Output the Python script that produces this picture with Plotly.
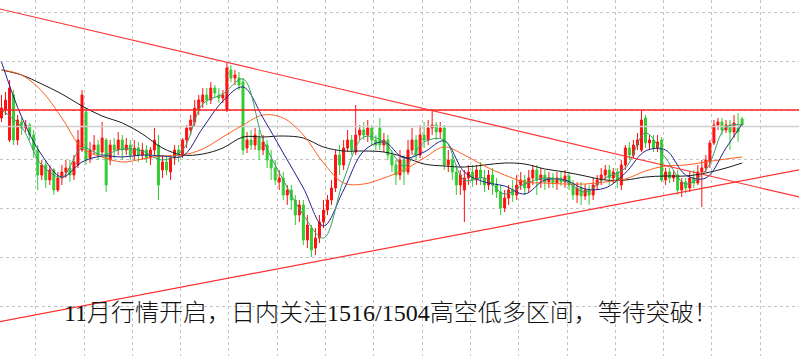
import plotly.graph_objects as go

# ---------------- data ----------------
bar_idx = list(range(185))

opens = [1515.2,1516.0,1513.0,1517.5,1513.0,1514.8,1514.2,1514.5,1513.5,1512.0,
         1509.5,1510.5,1509.0,1510.0,1508.0,1509.2,1509.8,1510.2,1509.5,1510.5,
         1512.0,1515.8,1511.2,1512.0,1512.5,1511.8,1513.0,1511.0,1512.5,1512.0,
         1513.0,1512.0,1512.5,1511.5,1512.2,1511.5,1512.0,1511.2,1512.0,1512.5,
         1510.0,1510.8,1509.8,1511.2,1512.0,1511.5,1513.0,1514.0,1514.8,1516.0,
         1516.8,1517.5,1517.0,1518.2,1517.5,1517.2,1516.0,1520.0,1519.2,1519.2,
         1518.8,1512.2,1513.0,1512.5,1513.2,1512.0,1512.5,1511.0,1510.2,1508.8,
         1509.2,1507.5,1508.0,1507.0,1505.5,1506.5,1503.0,1504.2,1502.2,1503.2,
         1504.8,1506.0,1507.0,1508.2,1511.5,1510.5,1512.2,1513.0,1511.8,1513.5,
         1514.0,1513.5,1514.2,1513.0,1514.2,1512.5,1513.0,1511.5,1510.5,1509.5,
         1511.0,1509.8,1512.0,1513.0,1511.5,1513.5,1513.0,1514.2,1514.5,1513.8,
         1514.2,1510.5,1511.0,1509.8,1508.5,1508.0,1509.2,1509.8,1509.0,1510.0,
         1509.2,1508.5,1509.5,1508.5,1507.8,1506.2,1507.2,1508.0,1507.5,1508.5,
         1509.0,1508.2,1509.2,1510.0,1509.0,1509.5,1508.8,1509.2,1508.7,1509.2,
         1508.8,1509.4,1508.5,1507.5,1508.2,1507.4,1508.0,1507.5,1508.5,1509.0,
         1509.5,1510.0,1509.2,1509.8,1508.5,1510.5,1512.2,1511.5,1512.5,1512.0,
         1515.2,1512.7,1513.0,1512.2,1513.0,1509.0,1509.8,1509.2,1509.5,1508.0,
         1508.8,1508.2,1509.2,1508.7,1509.8,1510.2,1510.8,1512.7,1514.5,1514.8,
         1514.0,1514.5,1513.8,1514.2,1515.1]
closes = [1516.2,1517.0,1518.2,1513.0,1515.0,1514.2,1514.5,1513.5,1512.0,1509.5,
          1510.5,1509.0,1510.0,1508.0,1509.2,1509.8,1510.2,1509.5,1510.8,1513.0,
          1517.5,1511.0,1512.0,1512.5,1511.5,1513.2,1508.5,1512.5,1512.0,1513.0,
          1512.0,1512.5,1511.5,1512.2,1511.5,1512.0,1511.2,1512.0,1513.0,1508.5,
          1510.8,1510.0,1511.2,1512.0,1511.5,1513.0,1514.2,1515.0,1516.2,1517.0,
          1517.5,1517.0,1518.2,1517.7,1517.2,1517.5,1520.2,1519.2,1519.5,1518.5,
          1512.0,1513.0,1512.5,1513.5,1512.0,1512.8,1511.0,1510.2,1509.0,1509.2,
          1507.5,1508.0,1507.0,1505.5,1506.5,1503.0,1504.5,1502.0,1503.2,1504.8,
          1506.0,1507.0,1508.2,1511.5,1510.5,1512.2,1513.0,1512.0,1513.5,1514.0,
          1513.5,1514.2,1513.0,1512.5,1512.5,1513.0,1511.5,1510.5,1509.5,1511.0,
          1509.8,1512.0,1513.0,1511.5,1513.5,1513.0,1514.2,1514.5,1513.8,1514.2,
          1510.5,1511.0,1509.8,1508.5,1509.5,1509.2,1509.8,1509.0,1510.0,1509.2,
          1508.5,1509.5,1508.5,1507.8,1506.2,1507.2,1508.0,1507.5,1508.5,1509.0,
          1508.2,1509.2,1510.0,1509.0,1509.5,1508.8,1509.2,1508.7,1509.2,1508.8,
          1509.4,1508.5,1507.5,1508.2,1507.4,1508.0,1507.5,1508.5,1509.0,1509.5,
          1510.0,1509.2,1509.8,1509.0,1510.5,1512.2,1511.5,1512.5,1513.0,1515.0,
          1512.7,1513.0,1512.2,1512.8,1509.0,1509.8,1509.2,1509.5,1508.0,1508.8,
          1508.2,1509.2,1508.7,1509.8,1510.2,1511.0,1512.7,1514.5,1514.8,1514.0,
          1514.5,1513.8,1514.7,1513.8,1514.5]
highs = [1517.5,1517.8,1519.0,1518.0,1515.5,1515.2,1515.0,1514.7,1514.0,1512.5,
         1511.0,1511.0,1510.5,1510.2,1509.8,1510.5,1511.0,1511.0,1511.5,1514.0,
         1518.0,1516.2,1512.8,1513.5,1513.0,1514.8,1513.2,1513.0,1513.2,1513.8,
         1513.5,1513.2,1513.0,1513.0,1512.8,1512.7,1512.5,1512.3,1514.2,1513.5,
         1511.5,1511.5,1511.5,1512.5,1512.5,1513.2,1514.5,1515.5,1517.0,1517.5,
         1518.2,1518.2,1518.8,1518.5,1518.2,1518.0,1520.7,1520.5,1520.0,1519.8,
         1519.2,1513.8,1514.0,1514.2,1514.0,1513.5,1513.0,1512.0,1511.0,1510.0,
         1509.8,1508.5,1508.5,1507.5,1507.0,1507.0,1505.5,1504.5,1504.2,1505.5,
         1507.0,1507.5,1509.0,1512.0,1512.5,1513.0,1514.0,1513.5,1516.5,1514.5,
         1514.8,1515.0,1514.5,1513.5,1515.2,1513.7,1513.5,1512.0,1511.0,1512.0,
         1511.5,1513.0,1514.2,1513.5,1514.5,1514.8,1515.0,1516.0,1514.8,1514.8,
         1514.5,1512.0,1511.5,1510.5,1510.0,1510.0,1510.5,1510.5,1510.5,1510.8,
         1510.0,1510.0,1510.2,1509.2,1508.5,1508.0,1508.5,1509.0,1509.5,1509.8,
         1509.5,1510.0,1510.5,1510.5,1510.2,1510.0,1509.8,1509.7,1509.8,1509.8,
         1510.0,1509.8,1509.0,1508.8,1508.8,1508.6,1508.5,1509.2,1509.5,1510.2,
         1510.5,1510.5,1510.2,1510.2,1511.0,1512.5,1512.8,1513.0,1513.7,1516.0,
         1515.5,1513.5,1513.5,1513.5,1513.3,1510.2,1510.2,1510.0,1510.0,1509.2,
         1509.2,1509.8,1510.0,1510.5,1511.0,1511.5,1513.0,1515.0,1515.2,1515.2,
         1515.0,1515.0,1515.5,1515.7,1515.3]
lows = [1514.8,1515.5,1512.8,1512.5,1512.5,1513.5,1513.8,1513.0,1511.2,1508.0,
        1509.0,1508.2,1508.5,1507.5,1507.8,1508.5,1509.2,1508.8,1509.0,1510.2,
        1511.8,1510.5,1510.7,1511.5,1511.0,1511.4,1507.8,1510.5,1511.2,1511.5,
        1511.0,1511.5,1511.0,1511.0,1510.8,1511.0,1510.7,1510.5,1511.5,1507.0,
        1509.2,1509.5,1509.0,1510.5,1510.8,1511.2,1512.2,1513.5,1514.4,1515.5,
        1516.2,1516.5,1516.6,1517.2,1516.7,1516.7,1515.8,1518.8,1518.5,1518.0,
        1511.5,1511.7,1512.0,1512.0,1511.0,1511.5,1510.2,1509.0,1508.5,1508.0,
        1507.0,1506.5,1506.0,1504.5,1504.8,1502.5,1502.2,1501.3,1501.5,1502.7,
        1504.2,1505.5,1506.5,1507.8,1509.5,1510.0,1511.8,1511.5,1511.5,1513.0,
        1513.0,1512.8,1512.5,1512.0,1512.0,1511.8,1511.0,1509.8,1508.5,1509.0,
        1508.5,1509.5,1511.5,1511.0,1511.2,1512.2,1512.5,1513.5,1513.0,1513.2,
        1510.0,1509.8,1509.0,1507.5,1507.5,1504.8,1508.5,1508.3,1508.5,1508.5,
        1507.8,1508.0,1507.5,1507.2,1505.5,1505.8,1506.5,1506.8,1507.0,1508.0,
        1507.5,1507.8,1508.5,1507.5,1508.2,1508.0,1508.2,1508.2,1508.0,1508.4,
        1508.2,1508.0,1507.0,1506.7,1506.5,1507.0,1506.5,1507.0,1508.0,1508.5,
        1509.0,1508.5,1508.7,1508.2,1508.0,1510.0,1511.0,1511.2,1512.0,1511.8,
        1512.2,1512.0,1511.8,1511.8,1508.8,1508.5,1508.7,1508.8,1507.5,1507.3,
        1507.7,1507.8,1508.2,1508.5,1506.3,1509.8,1510.2,1512.5,1514.0,1513.5,
        1513.7,1512.0,1513.2,1512.8,1514.3]

ma_idx = [0,5,10,15,20,25,30,35,40,45,50,55,60,65,70,75,80,85,90,95,100,
          105,110,115,120,125,130,135,140,145,150,155,160,165,170,175,180,184]
ma_fast = [1516.0,1514.3,1510.5,1509.3,1512.2,1511.5,1512.1,1511.9,1511.0,1512.0,
           1516.6,1517.6,1519.1,1513.0,1509.0,1505.5,1503.2,1509.0,1513.3,1512.8,
           1510.4,1512.8,1513.0,1509.0,1509.2,1507.6,1508.6,1509.2,1508.9,1507.8,
           1509.2,1510.2,1513.7,1511.2,1508.6,1510.0,1514.3,1514.5]
ma_blue = [1520.8,1515.3,1511.5,1509.3,1510.8,1511.4,1511.3,1511.5,1511.4,1511.4,
           1514.2,1516.9,1518.3,1515.2,1511.7,1508.2,1504.4,1508.0,1511.9,1512.8,
           1511.2,1511.8,1512.9,1509.8,1508.8,1508.4,1507.6,1509.0,1509.0,1508.1,
           1508.2,1509.7,1511.9,1512.0,1509.5,1509.2,1512.2,1514.6]
ma_orange = [1520.0,1519.5,1517.9,1515.2,1512.2,1511.3,1510.8,1511.1,1511.4,1511.5,
             1512.1,1513.3,1514.5,1515.5,1515.2,1513.5,1510.7,1508.7,1508.6,1509.2,
             1510.0,1511.2,1512.3,1511.5,1510.4,1509.5,1508.8,1508.7,1508.6,1508.6,
             1508.8,1509.1,1509.9,1510.4,1510.5,1510.8,1511.1,1511.3]
ma_black = [1520.0,1519.5,1518.6,1517.6,1516.4,1515.4,1514.7,1513.6,1512.2,1511.5,
            1511.6,1512.2,1513.3,1513.3,1513.4,1513.2,1512.3,1511.9,1511.9,1511.8,
            1511.3,1510.6,1510.4,1510.3,1510.5,1510.7,1510.6,1510.1,1509.8,1509.4,
            1509.0,1509.0,1509.3,1509.4,1509.4,1509.7,1510.2,1510.7]

# levels and trend lines
line_idx = [-1, 199]
resistance_level = [1516.0, 1516.0]
bid_level = [1514.35, 1514.35]
upper_trend = [1526.16, 1507.22]
lower_trend = [1494.80, 1510.07]

note = "11月行情开启，日内关注1516/1504高空低多区间，等待突破！"

# ---------------- figure ----------------
fig = go.Figure()

fig.add_trace(go.Scatter(x=line_idx, y=bid_level, mode="lines",
                         line=dict(color="#cfcfcf", width=1.5), hoverinfo="skip"))

fig.add_trace(go.Candlestick(
    x=bar_idx, open=opens, high=highs, low=lows, close=closes,
    increasing=dict(line=dict(color="#ff1010", width=1), fillcolor="#ff1010"),
    decreasing=dict(line=dict(color="#33cc33", width=1), fillcolor="#33cc33"),
    whiskerwidth=0))

fig.add_trace(go.Scatter(x=ma_idx, y=ma_black, mode="lines", line_shape="spline",
                         line=dict(color="#1a1a1a", width=1)))
fig.add_trace(go.Scatter(x=ma_idx, y=ma_orange, mode="lines", line_shape="spline",
                         line=dict(color="#ff6020", width=1)))
fig.add_trace(go.Scatter(x=ma_idx, y=ma_blue, mode="lines", line_shape="spline",
                         line=dict(color="#22228a", width=1)))
fig.add_trace(go.Scatter(x=ma_idx, y=ma_fast, mode="lines", line_shape="spline",
                         line=dict(color="#3a9a6a", width=1)))

fig.add_trace(go.Scatter(x=line_idx, y=resistance_level, mode="lines",
                         line=dict(color="#ff2020", width=1.3)))
fig.add_trace(go.Scatter(x=line_idx, y=upper_trend, mode="lines",
                         line=dict(color="#ff3030", width=1.2)))
fig.add_trace(go.Scatter(x=line_idx, y=lower_trend, mode="lines",
                         line=dict(color="#ff3030", width=1.2)))

fig.add_annotation(text=note, xref="paper", yref="paper", x=0.4895, y=0.121,
                   showarrow=False, xanchor="center", yanchor="middle",
                   font=dict(family="Liberation Serif, Noto Sans CJK SC", size=24,
                             color="#111111", weight=300))

fig.update_layout(
    width=799, height=356, margin=dict(l=0, r=0, t=0, b=0),
    paper_bgcolor="white", plot_bgcolor="white", showlegend=False,
    xaxis=dict(range=[-0.373, 198.14], showticklabels=False, zeroline=False,
               showline=False, rangeslider=dict(visible=False),
               showgrid=True, tick0=8.5, dtick=12, gridcolor="#c4c4c4",
               griddash="3px,3px", gridwidth=1),
    yaxis=dict(range=[1491.4, 1527.0], showticklabels=False, zeroline=False,
               showline=False, showgrid=True, tick0=1516.0, dtick=4.9,
               gridcolor="#c4c4c4", griddash="3px,3px", gridwidth=1),
)

fig.write_html("out.html")
